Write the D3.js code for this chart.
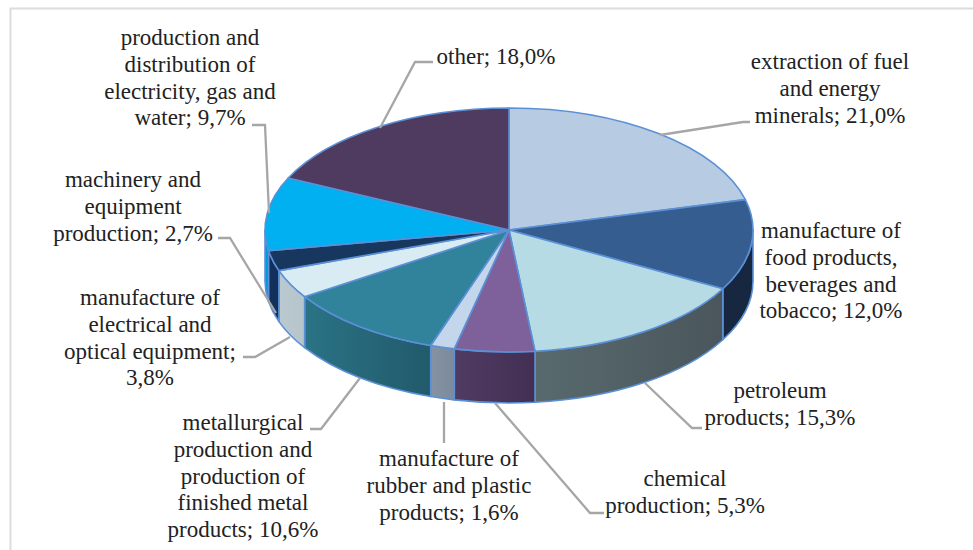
<!DOCTYPE html>
<html><head><meta charset="utf-8">
<script src="https://cdn.jsdelivr.net/npm/d3@7/dist/d3.min.js"></script>
<style>html,body{margin:0;padding:0;background:#fff}svg{display:block}</style>
</head><body><svg id="c" width="973" height="550"></svg>
<script>
// ---- data ----
const categories = ["extraction of fuel and energy minerals","manufacture of food products, beverages and tobacco","petroleum products","chemical production","manufacture of rubber and plastic products","metallurgical production and production of finished metal products","manufacture of electrical and optical equipment","machinery and equipment production","production and distribution of electricity, gas and water","other"];
const values = [21.0,12.0,15.3,5.3,1.6,10.6,3.8,2.7,9.7,18.0];
const valueLabels = ["21,0%","12,0%","15,3%","5,3%","1,6%","10,6%","3,8%","2,7%","9,7%","18,0%"];
// ---- styles ----
const topColors = ["#b7cce2","#355d90","#b6dbe5","#7e609b","#c3d6ec","#31829b","#d9ebf3","#17375e","#00b0f0","#4f3a60"];
const sideLeft  = ["#8ea0b4","#16273f","#586a6e","#503b62","#8492a3","#2a7385","#bac9d0","#12305a","#0098dc","#3f2e4f"];
const sideRight = ["#8ea0b4","#16273f","#4a565b","#432e54","#7c8b9c","#215a6b","#b6c5cc","#12305a","#0098dc","#3f2e4f"];
// ---- layout ----
const labelLines = [
 ["extraction of fuel","and energy","minerals; 21,0%"],
 ["manufacture of","food products,","beverages and","tobacco; 12,0%"],
 ["petroleum","products; 15,3%"],
 ["chemical","production; 5,3%"],
 ["manufacture of","rubber and plastic","products; 1,6%"],
 ["metallurgical","production and","production of","finished metal","products; 10,6%"],
 ["manufacture of","electrical and","optical equipment;","3,8%"],
 ["machinery and","equipment","production; 2,7%"],
 ["production and","distribution of","electricity, gas and","water; 9,7%"],
 ["other; 18,0%"]];
const labelCenterX = [830,831,780,685,449,243,150,133,190,496];
const labelFirstY  = [69,238,398,486,466,430,305,187,45,64];
const lineStep = 26.8;
const leaders = [
 [[660,135],[743,122],[750,122]],null,
 [[645,383],[692,428],[702,428]],
 [[495,403],[590,513],[604,513]],
 [[444,402],[444,443]],
 [[360,378],[321,429],[310,429]],
 [[290,337],[255,357],[243,357]],
 [[218,238],[230,238],[276,313]],
 [[252,125],[265,125],[269,213]],
 [[380,128],[415,62],[433,62]]];
const cx=509, cy=230, rx=244, ry=122, depth=51;

const svg=d3.select("#c");
const defs=svg.append("defs");
// frame (top and left rules only)
svg.append("path").attr("d","M973,8.5H10.5V550").attr("fill","none").attr("stroke","#dcdcdc").attr("stroke-width",2);

const slices=d3.pie().sort(null).value(d=>d)(values);
const px=t=>cx+rx*Math.sin(t), py=t=>cy-ry*Math.cos(t);
const lo=Math.PI/2, hi=3*Math.PI/2;
const edge="#5b90d6";

// walls
const walls=svg.append("g");
slices.forEach((s,i)=>{
  const a=Math.max(s.startAngle,lo), b=Math.min(s.endAngle,hi);
  if(b<=a) return;
  const id="g"+i;
  const g=defs.append("linearGradient").attr("id",id).attr("gradientUnits","userSpaceOnUse")
    .attr("x1",px(b)).attr("x2",px(a)).attr("y1",0).attr("y2",0);
  g.append("stop").attr("offset",0).attr("stop-color",sideLeft[i]);
  g.append("stop").attr("offset",1).attr("stop-color",sideRight[i]);
  const p=`M${px(a)},${py(a)}A${rx},${ry} 0 0 1 ${px(b)},${py(b)}L${px(b)},${py(b)+depth}A${rx},${ry} 0 0 0 ${px(a)},${py(a)+depth}Z`;
  walls.append("path").attr("d",p).attr("fill",`url(#${id})`).attr("stroke",edge).attr("stroke-width",1.6).attr("stroke-linejoin","round");
});

// top face
const arc=d3.arc().innerRadius(0).outerRadius(rx);
svg.append("g").attr("transform",`translate(${cx},${cy}) scale(1,${ry/rx})`)
  .selectAll("path").data(slices).join("path")
  .attr("d",arc).attr("fill",(d,i)=>topColors[i])
  .attr("stroke",edge).attr("stroke-width",1.6).attr("stroke-linejoin","round")
  .attr("vector-effect","non-scaling-stroke");

// leaders
const line=d3.line();
svg.append("g").selectAll("path").data(leaders.filter(Boolean)).join("path")
  .attr("d",line).attr("fill","none").attr("stroke","#a6a6a6").attr("stroke-width",2.3);

// labels
const lab=svg.append("g").attr("font-family","'Liberation Serif','Times New Roman',serif").attr("font-size",23).attr("fill","#222").attr("text-anchor","middle");
labelLines.forEach((ls,i)=>{
  const t=lab.append("text").attr("data-cat",categories[i]);
  ls.forEach((l,j)=>t.append("tspan").attr("x",labelCenterX[i]).attr("y",labelFirstY[i]+j*lineStep).text(l));
});
</script></body></html>
